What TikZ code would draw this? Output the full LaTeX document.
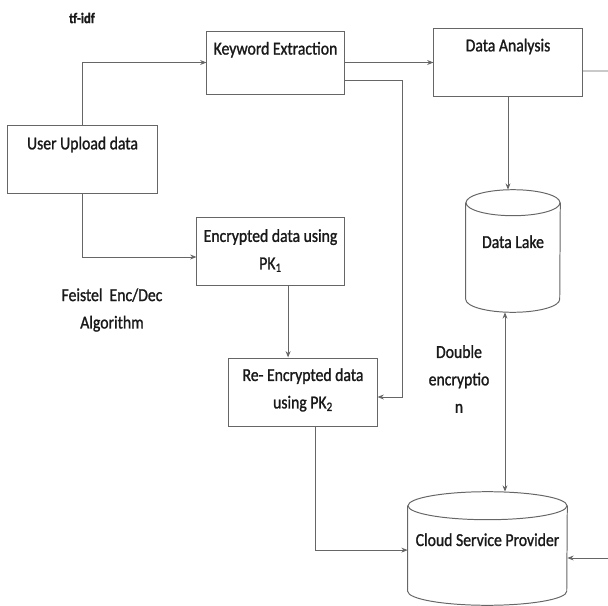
\documentclass[tikz,border=0pt]{standalone}
\usepackage{fontspec}
\setmainfont{Carlito}[FakeStretch=0.86,FakeBold=1.2]
\usetikzlibrary{arrows.meta}

\begin{document}
\begin{tikzpicture}[x=0.025cm,y=-0.025cm,font=\fontsize{13}{19.5}\selectfont,
  >={Stealth[length=4.5pt,width=3.5pt]},
  line/.style={draw=black!60,line width=0.7pt},
  box/.style={line,rectangle,inner sep=0pt,minimum height=1.7cm},
  cyl/.style={rectangle,inner sep=0pt},
  lbl/.style={anchor=center,align=center,inner sep=0pt,text=black!90}]
  \useasboundingbox (0,0) rectangle (608,606);

  % boxes
  \node[box,minimum width=3.425cm,minimum height=1.575cm,
    label={[lbl,yshift=-0.48cm]north:Keyword Extraction}] (ke) at (275.5,62.5) {};
  \node[box,minimum width=3.7cm,
    label={[lbl,yshift=-0.475cm]north:Data Analysis}] (da) at (508,62) {};
  \node[box,minimum width=3.725cm,
    label={[lbl,yshift=-0.5cm]north:User Upload data}] (uu) at (82.5,159) {};
  \node[box,minimum width=3.675cm,
    label={[lbl,yshift=-0.85cm]north:Encrypted data using\\PK\textsubscript{1}}] (en) at (270.5,251) {};
  \node[box,minimum width=3.7cm,
    label={[lbl,yshift=-0.81cm]north:Re- Encrypted data\\using PK\textsubscript{2}}] (re) at (303,392) {};

  % cylinders
  \node[cyl,minimum width=2.35cm,minimum height=3.05cm,
    label={[lbl,yshift=-1.3cm]north:Data Lake}] (dl) at (513,251) {};
  \draw[line] ([yshift=-0.325cm]dl.north west) -- ([yshift=0.325cm]dl.south west)
    arc[start angle=180,end angle=360,x radius=1.175cm,y radius=0.325cm]
    -- ([yshift=-0.325cm]dl.north east);
  \draw[line] ([yshift=-0.325cm]dl.north) ellipse [x radius=1.175cm,y radius=0.325cm];

  \node[cyl,minimum width=3.975cm,minimum height=2.825cm,
    label={[lbl,yshift=-1.2cm]north:Cloud Service Provider}] (csp) at (487.5,548.5) {};
  \draw[line] ([yshift=-0.35cm]csp.north west) -- ([yshift=0.35cm]csp.south west)
    arc[start angle=180,end angle=360,x radius=1.9875cm,y radius=0.35cm]
    -- ([yshift=-0.35cm]csp.north east);
  \draw[line] ([yshift=-0.35cm]csp.north) ellipse [x radius=1.9875cm,y radius=0.35cm];

  % free texts
  \node[lbl,font=\bfseries\fontsize{10.5}{13}\selectfont] (tfidf) at (82,18) {tf-idf};
  \node[lbl] (feistel) at (112,310) {Feistel\ \ Enc/Dec\\Algorithm};
  \node[lbl] (dbl) at (459,379) {Double\\encryptio\\n};

  % connectors
  \coordinate (kedrop) at (402,80);
  \coordinate (daout) at (608,71);
  \coordinate (cspin) at (608,558);
  \draw[line,->] (uu.north) |- (ke.west);
  \draw[line,->] (ke.east) -- (ke.east -| da.west);
  \draw[line,->] (ke.east |- kedrop) -- (kedrop) |- ([yshift=-0.125cm]re.east);
  \draw[line,->] (uu.south) |- ([yshift=-0.15cm]en.west);
  \draw[line,->] ([xshift=0.44cm]en.south) -- ([xshift=0.44cm]en.south |- re.north);
  \draw[line,->] ([xshift=0.3cm]re.south) |- ([yshift=-0.04cm]csp.west);
  \draw[line,->] (da.south) -- (da.south |- dl.north);
  \draw[line,<->] ([xshift=-0.2cm]dl.south) -- ([xshift=-0.2cm]dl.south |- csp.north);
  \draw[line] ([yshift=-0.225cm]da.east) -- (daout);
  \draw[line,->] (cspin) -- (cspin -| csp.east);
\end{tikzpicture}
\end{document}
